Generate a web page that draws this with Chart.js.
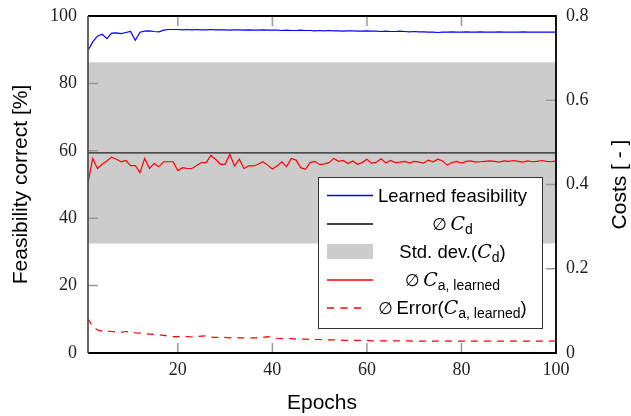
<!DOCTYPE html>
<html>
<head>
<meta charset="utf-8">
<script src="https://cdn.jsdelivr.net/npm/chart.js@4.4.1/dist/chart.umd.min.js"></script>
<style>
  body { margin: 0; background: #fff; }
  canvas { display: block; }
</style>
</head>
<body>
<canvas id="chart" width="631" height="416"></canvas>
<script>
'use strict';

const epochs = [
  1, 2, 3, 4, 5, 6, 7, 8, 9, 10, 11, 12, 13, 14, 15, 16, 17, 18, 19, 20,
  21, 22, 23, 24, 25, 26, 27, 28, 29, 30, 31, 32, 33, 34, 35, 36, 37, 38, 39, 40,
  41, 42, 43, 44, 45, 46, 47, 48, 49, 50, 51, 52, 53, 54, 55, 56, 57, 58, 59, 60,
  61, 62, 63, 64, 65, 66, 67, 68, 69, 70, 71, 72, 73, 74, 75, 76, 77, 78, 79, 80,
  81, 82, 83, 84, 85, 86, 87, 88, 89, 90, 91, 92, 93, 94, 95, 96, 97, 98, 99, 100
];

// feasibility correct in %
const learnedFeasibility = [
  89.8, 92.3, 94.0, 94.6, 93.3, 94.9, 95.0, 94.8, 95.1, 95.4,
  92.8, 95.2, 95.5, 95.6, 95.4, 95.3, 95.8, 96.0, 96.0, 96.0,
  95.9, 96.0, 95.9, 96.0, 95.9, 95.9, 96.0, 95.9, 95.9, 95.9,
  95.8, 95.9, 95.9, 95.8, 95.9, 95.8, 95.8, 95.9, 95.8, 95.8,
  95.8, 95.7, 95.8, 95.7, 95.7, 95.8, 95.7, 95.7, 95.6, 95.7,
  95.6, 95.7, 95.6, 95.6, 95.5, 95.6, 95.6, 95.5, 95.5, 95.6,
  95.5, 95.5, 95.4, 95.5, 95.4, 95.4, 95.5, 95.4, 95.3, 95.4,
  95.3, 95.3, 95.2, 95.2, 95.1, 95.2, 95.2, 95.3, 95.2, 95.2,
  95.3, 95.2, 95.2, 95.3, 95.2, 95.2, 95.2, 95.3, 95.2, 95.2,
  95.2, 95.2, 95.3, 95.2, 95.2, 95.2, 95.2, 95.2, 95.2, 95.2
];

// costs
const costLearned = [
  0.404, 0.462, 0.438, 0.448, 0.456, 0.465, 0.460, 0.454, 0.457, 0.445,
  0.445, 0.428, 0.462, 0.438, 0.450, 0.442, 0.454, 0.454, 0.454, 0.433,
  0.440, 0.438, 0.438, 0.445, 0.452, 0.452, 0.469, 0.460, 0.448, 0.448,
  0.472, 0.444, 0.460, 0.438, 0.444, 0.444, 0.448, 0.454, 0.446, 0.437,
  0.444, 0.454, 0.442, 0.462, 0.458, 0.440, 0.436, 0.452, 0.455, 0.447,
  0.449, 0.452, 0.462, 0.455, 0.457, 0.450, 0.456, 0.448, 0.452, 0.460,
  0.450, 0.453, 0.461, 0.451, 0.457, 0.452, 0.453, 0.455, 0.451, 0.455,
  0.453, 0.451, 0.458, 0.454, 0.460, 0.456, 0.446, 0.452, 0.455, 0.451,
  0.455, 0.456, 0.453, 0.454, 0.455, 0.456, 0.455, 0.453, 0.456, 0.455,
  0.457, 0.455, 0.453, 0.456, 0.454, 0.455, 0.457, 0.455, 0.454, 0.456
];

const costError = [
  0.082, 0.062, 0.055, 0.052, 0.052, 0.051, 0.050, 0.049, 0.051, 0.050,
  0.048, 0.047, 0.046, 0.045, 0.044, 0.043, 0.042, 0.040, 0.039, 0.039,
  0.039, 0.039, 0.038, 0.039, 0.040, 0.041, 0.038, 0.037, 0.037, 0.037,
  0.036, 0.037, 0.036, 0.036, 0.035, 0.036, 0.036, 0.037, 0.039, 0.037,
  0.035, 0.034, 0.034, 0.034, 0.033, 0.033, 0.033, 0.032, 0.032, 0.032,
  0.031, 0.031, 0.031, 0.031, 0.030, 0.030, 0.030, 0.030, 0.030, 0.030,
  0.029, 0.029, 0.029, 0.029, 0.029, 0.029, 0.029, 0.029, 0.029, 0.028,
  0.028, 0.028, 0.028, 0.028, 0.028, 0.028, 0.028, 0.028, 0.028, 0.028,
  0.028, 0.028, 0.028, 0.028, 0.028, 0.028, 0.028, 0.028, 0.028, 0.028,
  0.028, 0.028, 0.028, 0.028, 0.028, 0.028, 0.028, 0.028, 0.028, 0.028
];

const meanCd = 0.475;
const stdLow = 0.26;
const stdHigh = 0.69;

const epochTicks = [20, 40, 60, 80, 100];
const feasTicks = [0, 20, 40, 60, 80, 100];
const costTicks = [0, 0.2, 0.4, 0.6, 0.8];

const toPoints = (vals) => vals.map((v, i) => ({ x: epochs[i], y: v }));
const flat = (v) => [{ x: epochs[0], y: v }, { x: epochs[epochs.length - 1], y: v }];

const serif = 'Liberation Serif';
const sans = 'Liberation Sans';
const calC = { t: 'C', f: 'italic 19px DejaVu Serif' };
const empty = { t: '\u2205\u2009', f: '17px DejaVu Sans' };

// legend rows: sample kind + text runs
const legendRows = [
  { kind: 'line', color: '#0000ff', runs: [{ t: 'Learned feasibility' }] },
  { kind: 'line', color: '#000000', runs: [empty, calC, { t: 'd', f: '14px ' + sans, dy: 4 }] },
  { kind: 'box', color: '#cccccc', runs: [{ t: 'Std. dev.(' }, calC, { t: 'd', f: '14px ' + sans, dy: 4 }, { t: ')' }] },
  { kind: 'line', color: '#ff0000', runs: [empty, calC, { t: 'a, learned', f: '14px ' + sans, dy: 4 }] },
  { kind: 'dash', color: '#ff0000', runs: [empty, { t: 'Error(' }, calC, { t: 'a, learned', f: '14px ' + sans, dy: 4 }, { t: ')' }] }
];

// vertical scales should not ask for extra room above / below
const noPad = (s) => { s.paddingTop = 0; s.paddingBottom = 0; };

const decorations = {
  id: 'decorations',
  afterDraw(chart) {
    const ctx = chart.ctx;
    const a = chart.chartArea;
    const sx = chart.scales.x;
    const sy = chart.scales.y;
    const sy1 = chart.scales.y1;
    ctx.save();

    // inward ticks
    ctx.strokeStyle = '#999';
    ctx.lineWidth = 1.5;
    ctx.beginPath();
    epochTicks.forEach(function (t) {
      const px = sx.getPixelForValue(t);
      ctx.moveTo(px, a.bottom);
      ctx.lineTo(px, a.bottom - 10);
      ctx.moveTo(px, a.top);
      ctx.lineTo(px, a.top + 10);
    });
    feasTicks.slice(1, -1).forEach(function (t) {
      const py = sy.getPixelForValue(t);
      ctx.moveTo(a.left, py);
      ctx.lineTo(a.left + 10, py);
    });
    costTicks.slice(1, -1).forEach(function (t) {
      const py = sy1.getPixelForValue(t);
      ctx.moveTo(a.right, py);
      ctx.lineTo(a.right - 10, py);
    });
    ctx.stroke();

    // frame
    ctx.lineWidth = 1.8;
    ctx.strokeStyle = '#000';
    ctx.beginPath();
    ctx.moveTo(a.left, a.top);
    ctx.lineTo(a.right, a.top);
    ctx.lineTo(a.right, a.bottom);
    ctx.lineTo(a.left, a.bottom);
    ctx.stroke();
    ctx.strokeStyle = '#555';
    ctx.beginPath();
    ctx.moveTo(a.left, a.top);
    ctx.lineTo(a.left, a.bottom);
    ctx.stroke();

    // right axis title, reading bottom to top
    ctx.save();
    ctx.translate(620, (a.top + a.bottom) / 2);
    ctx.rotate(-Math.PI / 2);
    ctx.font = '21px ' + sans;
    ctx.fillStyle = '#000';
    ctx.textAlign = 'center';
    ctx.textBaseline = 'middle';
    ctx.fillText('Costs [ - ]', 0, 0);
    ctx.restore();

    // legend
    const lx = 318, ly = 177, lw = 224, lh = 151;
    ctx.fillStyle = '#fff';
    ctx.fillRect(lx, ly, lw, lh);
    ctx.strokeStyle = '#333';
    ctx.lineWidth = 1;
    ctx.strokeRect(lx + 0.5, ly + 0.5, lw, lh);

    const rowY = [195.5, 224, 251.5, 280, 308];
    legendRows.forEach(function (row, i) {
      const y = rowY[i];
      if (row.kind === 'box') {
        ctx.fillStyle = row.color;
        ctx.fillRect(327, y - 7.5, 46, 15);
      } else {
        ctx.strokeStyle = row.color;
        ctx.lineWidth = 1.3;
        ctx.setLineDash(row.kind === 'dash' ? [7, 6.5] : []);
        ctx.beginPath();
        ctx.moveTo(327, y);
        ctx.lineTo(row.kind === 'dash' ? 367 : 373, y);
        ctx.stroke();
        ctx.setLineDash([]);
      }
      // centred text runs
      const base = '18.5px ' + sans;
      let w = 0;
      row.runs.forEach(function (r) {
        ctx.font = r.f || base;
        w += ctx.measureText(r.t).width;
      });
      let x = 452.5 - w / 2;
      ctx.fillStyle = '#000';
      ctx.textBaseline = 'alphabetic';
      ctx.textAlign = 'left';
      row.runs.forEach(function (r) {
        ctx.font = r.f || base;
        ctx.fillText(r.t, x, y + 6 + (r.dy || 0));
        x += ctx.measureText(r.t).width;
      });
    });
    ctx.restore();
  }
};

new Chart(document.getElementById('chart'), {
  type: 'line',
  data: {
    datasets: [
      { data: toPoints(learnedFeasibility), yAxisID: 'y', borderColor: '#0000ff', borderWidth: 1.2 },
      { data: toPoints(costLearned), yAxisID: 'y1', borderColor: '#ff0000', borderWidth: 1.2 },
      { data: toPoints(costError), yAxisID: 'y1', borderColor: '#ff0000', borderWidth: 1.2, borderDash: [7, 6] },
      { data: flat(meanCd), yAxisID: 'y1', borderColor: '#222', borderWidth: 1.3 },
      { data: flat(stdHigh), yAxisID: 'y1', borderWidth: 0, borderColor: 'rgba(0,0,0,0)', backgroundColor: '#cccccc', fill: '+1' },
      { data: flat(stdLow), yAxisID: 'y1', borderWidth: 0, borderColor: 'rgba(0,0,0,0)' }
    ]
  },
  options: {
    responsive: false,
    animation: false,
    layout: { padding: { top: 16, left: 0, right: 0, bottom: 0 } },
    elements: { point: { radius: 0 }, line: { tension: 0 } },
    plugins: { legend: { display: false }, tooltip: { enabled: false } },
    scales: {
      x: {
        type: 'linear',
        min: 1,
        max: 100,
        afterBuildTicks: (s) => { s.ticks = epochTicks.map((v) => ({ value: v })); },
        afterFit: (s) => { s.height = 63; s.paddingLeft = 0; s.paddingRight = 0; },
        grid: { display: false, drawTicks: false },
        border: { display: false },
        ticks: { padding: 6, color: '#222', font: { family: serif, size: 18 }, maxRotation: 0 },
        title: { display: true, text: 'Epochs', color: '#000', font: { family: sans, size: 21, lineHeight: 1 }, padding: { top: 0, bottom: 2 } }
      },
      y: {
        position: 'left',
        min: 0,
        max: 100,
        afterBuildTicks: (s) => { s.ticks = feasTicks.map((v) => ({ value: v })); },
        afterFit: (s) => { s.width = 88; noPad(s); },
        grid: { display: false, drawTicks: false },
        border: { display: false },
        ticks: { padding: 11, color: '#222', font: { family: serif, size: 18 } },
        title: { display: true, text: 'Feasibility correct [%]', color: '#000', font: { family: sans, size: 21, lineHeight: 1 }, padding: { top: 10.5, bottom: 0 } }
      },
      y1: {
        position: 'right',
        min: 0,
        max: 0.8,
        afterBuildTicks: (s) => { s.ticks = costTicks.map((v) => ({ value: v })); },
        afterFit: (s) => { s.width = 75; noPad(s); },
        grid: { display: false, drawTicks: false },
        border: { display: false },
        ticks: { padding: 10, color: '#222', font: { family: serif, size: 18 }, callback: (v) => String(v) },
        title: { display: false }
      }
    }
  },
  plugins: [decorations]
});
</script>
</body>
</html>
